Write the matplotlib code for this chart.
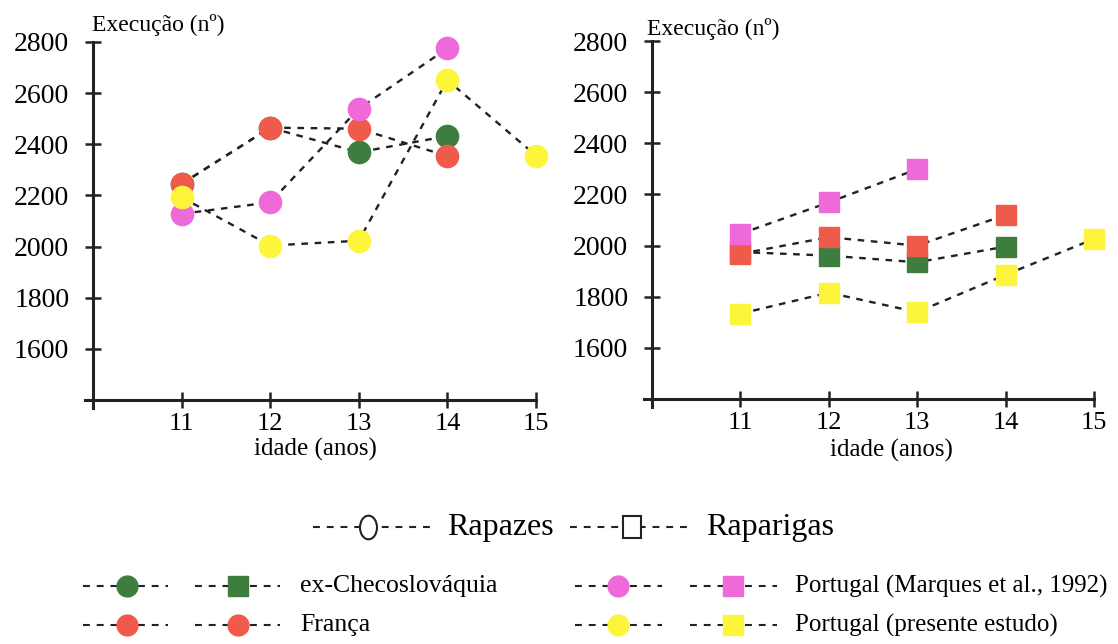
import matplotlib.pyplot as plt
from matplotlib.markers import MarkerStyle
from matplotlib.transforms import Affine2D

plt.rcParams['font.family'] = 'Liberation Serif'

idades = [11, 12, 13, 14, 15]
yticks = [1600, 1800, 2000, 2200, 2400, 2600, 2800]

# rapazes (circulos)
checo_m = [2245, 2465, 2369, 2432]
franca_m = [2245, 2465, 2461, 2354]
marques_m = [2128, 2173, 2539, 2775]
presente_m = [2193, 2004, 2023, 2651, 2356]

# raparigas (quadrados)
checo_f = [1975, 1961, 1935, 1996]
franca_f = [1968, 2033, 2000, 2120]
marques_f = [2046, 2169, 2299]
presente_f = [1734, 1816, 1740, 1886, 2026]

nomes = ['ex-Checoslováquia', 'França',
         'Portugal (Marques et al., 1992)', 'Portugal (presente estudo)']

verde = '#3f7d3f'
vermelho = '#f05a4a'
rosa = '#ee6ad8'
amarelo = '#fdf53c'
preto = '#222222'
tracejado = (0, (2.8, 2.8))


def painel(ax, series, marcador, tam):
    # linhas primeiro, marcadores por cima
    for vals, cor in series:
        ax.plot(idades[:len(vals)], vals, ls=tracejado, lw=1.7, color=preto, zorder=1)
    for vals, cor in series:
        ax.plot(idades[:len(vals)], vals, ls='none', marker=marcador, ms=tam,
                mfc=cor, mec=cor, zorder=3, clip_on=False)
    ax.spines['top'].set_visible(False)
    ax.spines['right'].set_visible(False)
    ax.spines['left'].set_position(('data', 10))
    ax.spines['bottom'].set_position(('data', 1400))
    for s in ['left', 'bottom']:
        ax.spines[s].set_linewidth(2.2)
        ax.spines[s].set_color(preto)
    ax.set_xlim(9.91, 15)
    ax.set_ylim(1369, 2800)
    ax.set_xticks(idades)
    ax.set_yticks(yticks)
    ax.tick_params(direction='inout', length=12, width=1.8, color=preto)
    ax.tick_params(axis='y', labelsize=20, pad=11)
    ax.tick_params(axis='x', labelsize=19, pad=3)
    ax.patch.set_alpha(0)


fig = plt.figure(figsize=(11.18, 6.44), dpi=100)

ax1 = fig.add_axes([0.0760, 0.3665, 0.4034, 0.5683])
painel(ax1, [(checo_m, verde), (franca_m, vermelho), (marques_m, rosa),
             (presente_m, amarelo)], 'o', 16)
ax1.text(0.0155, 1.046, 'Execução (nº)', transform=ax1.transAxes,
         fontsize=17, va='center', ha='left')
ax1.text(0.51, -0.112, 'idade (anos)', transform=ax1.transAxes,
         fontsize=18, va='center', ha='center')

ax2 = fig.add_axes([0.5760, 0.3680, 0.4025, 0.5683])
painel(ax2, [(checo_f, verde), (franca_f, vermelho), (marques_f, rosa),
             (presente_f, amarelo)], 's', 15)
ax2.text(0.007, 1.033, 'Execução (nº)', transform=ax2.transAxes,
         fontsize=17, va='center', ha='left')
ax2.text(0.549, -0.118, 'idade (anos)', transform=ax2.transAxes,
         fontsize=18, va='center', ha='center')

# legenda desenhada num eixo em coordenadas de pixel
lg = fig.add_axes([0, 0, 1, 1], zorder=-1)
lg.set_xlim(0, 1118)
lg.set_ylim(644, 0)
lg.axis('off')

leg_ls = (0, (3.3, 3.3))
oval = MarkerStyle('o', transform=Affine2D().scale(0.72, 1.0))
rect = MarkerStyle('s', transform=Affine2D().scale(0.8, 1.0))

lg.plot([313, 432], [527, 527], ls=leg_ls, lw=1.5, color=preto)
lg.plot([368], [527], marker=oval, ms=17, mfc='white', mec=preto, mew=1.5)
lg.text(447, 527, 'Rapazes', fontsize=23, va='center', ha='left')
lg.plot([570, 690], [527, 527], ls=leg_ls, lw=1.5, color=preto)
lg.plot([632], [527], marker=rect, ms=16, mfc='white', mec=preto, mew=1.5)
lg.text(706, 527, 'Raparigas', fontsize=23, va='center', ha='left')

linhas = [(586, verde), (625, vermelho)]
linhas_pt = [(586, rosa), (625, amarelo)]
marc_esq = ['s', 'o']  # a França aparece com circulo nas duas colunas

for i, (y, cor) in enumerate(linhas):
    lg.plot([83, 168], [y, y], ls=leg_ls, lw=1.5, color=preto)
    lg.plot([127], [y], marker='o', ms=15, mfc=cor, mec=cor)
    lg.plot([195, 280], [y, y], ls=leg_ls, lw=1.5, color=preto)
    lg.plot([238], [y], marker=marc_esq[i], ms=15 if marc_esq[i] == 'o' else 14,
            mfc=cor, mec=cor)
    lg.text(300, y, nomes[i], fontsize=18.5, va='center', ha='left')

for i, (y, cor) in enumerate(linhas_pt):
    lg.plot([575, 662], [y, y], ls=leg_ls, lw=1.5, color=preto)
    lg.plot([618], [y], marker='o', ms=15, mfc=cor, mec=cor)
    lg.plot([690, 777], [y, y], ls=leg_ls, lw=1.5, color=preto)
    lg.plot([733], [y], marker='s', ms=14, mfc=cor, mec=cor)
    lg.text(795, y, nomes[i + 2], fontsize=18, va='center', ha='left')

fig.savefig('out.png', dpi=100)
